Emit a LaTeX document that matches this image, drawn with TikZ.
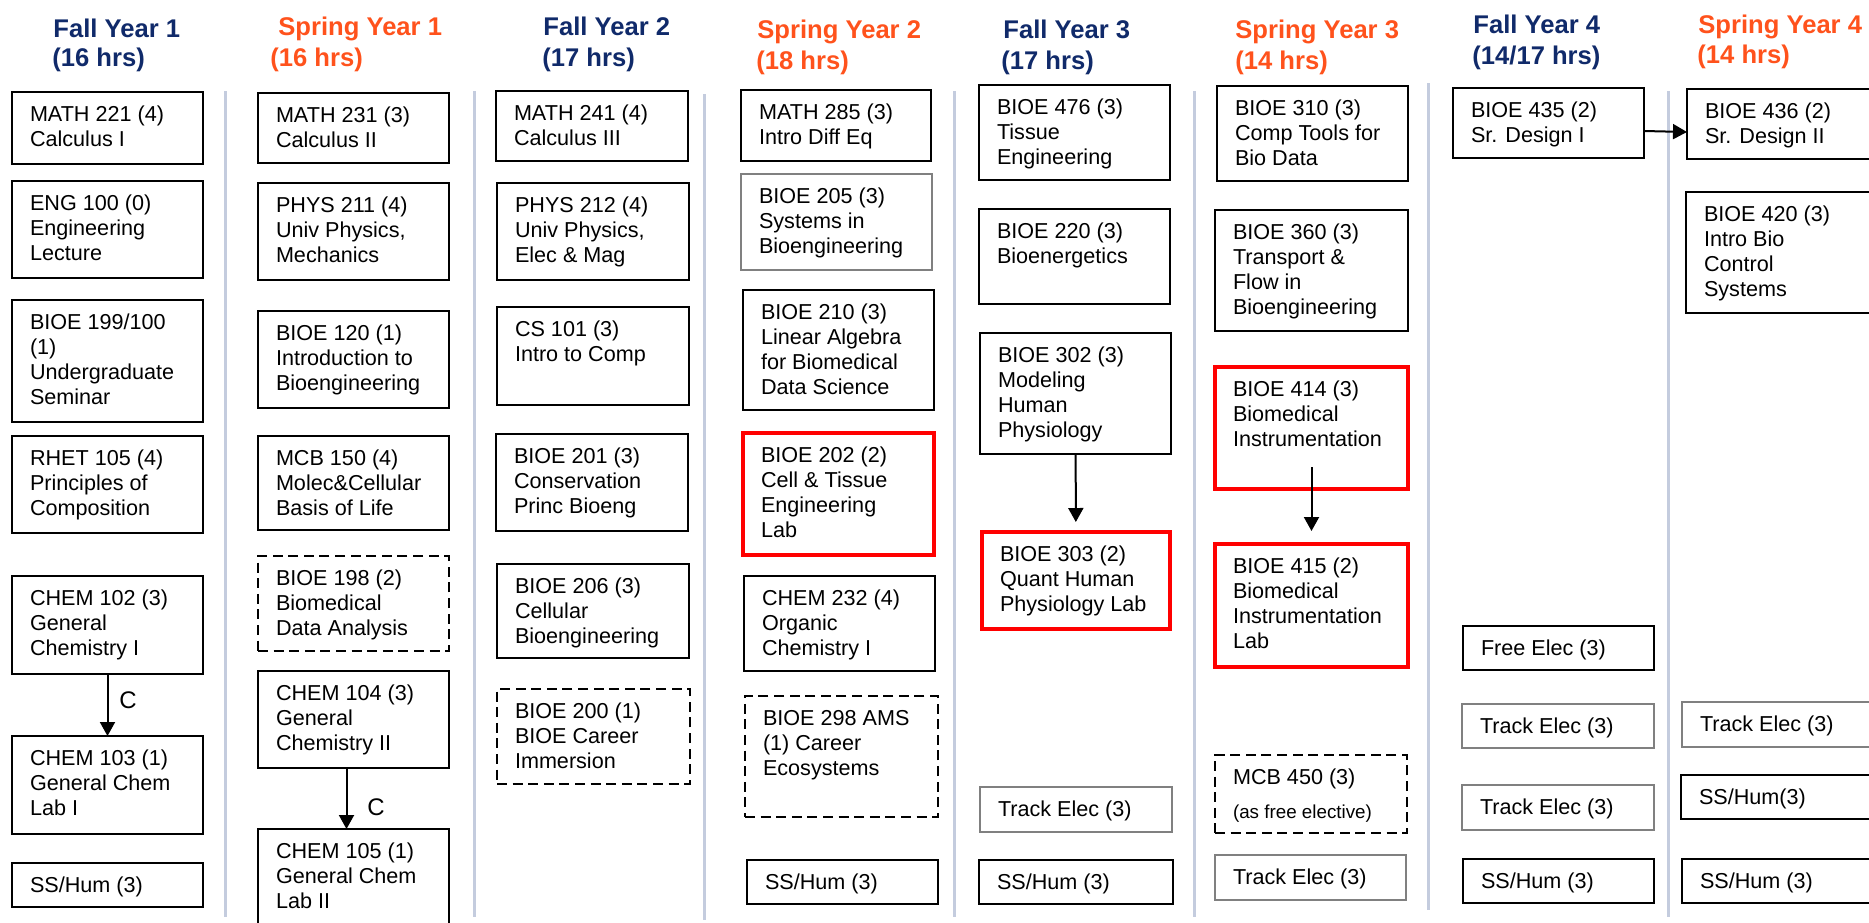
\documentclass[tikz,border=0pt]{standalone}
\usepackage{fontspec}
\setmainfont{Liberation Sans}
\usetikzlibrary{arrows.meta}
\definecolor{navy}{RGB}{16,42,106}
\definecolor{illorange}{RGB}{255,82,28}
\definecolor{sepcol}{RGB}{196,204,222}
\definecolor{thingray}{RGB}{128,128,128}
\definecolor{boxred}{RGB}{255,0,0}

% #1 name, #2 style, #3 x1, #4 y1, #5 x2, #6 y2 (pixels), #7 text
\newcommand{\crs}[7]{%
  \node[#2] (#1) at (#3,#4)
   {\parbox[c][\dimexpr(#6pt-#4pt)/2\relax][t]{\dimexpr(#5pt-#3pt)/2\relax}{%
     \raggedright\setlength{\leftskip}{9pt}\vspace*{6.3pt}\strut #7\par}};}

\tikzset{
  cbase/.style={inner sep=0pt, outer sep=0pt, anchor=north west,
    font=\fontsize{10.8pt}{12.4pt}\selectfont},
  thick box/.style={cbase, draw=black, line width=1.3pt},
  thin box/.style={cbase, draw=thingray, line width=0.6pt},
  red box/.style={cbase, draw=boxred, line width=1.65pt},
  dash box/.style={cbase, draw=black, line width=1.2pt, dash pattern=on 5pt off 2.8pt},
  hdr/.style={anchor=base west, inner sep=0pt, font=\fontsize{12.8pt}{15pt}\selectfont\bfseries},
  hfall/.style={hdr, text=navy},
  hspring/.style={hdr, text=illorange},
  sep/.style={draw=sepcol, line width=1.5pt},
  arr/.style={-{Triangle[width=7.5pt,length=7pt]}, line width=1pt},
  lbl/.style={inner sep=0pt, font=\fontsize{12pt}{14pt}\selectfont}
}

\begin{document}
\begin{tikzpicture}[x=0.5pt, y=-0.5pt]
\useasboundingbox (0,0) rectangle (1869,922);
\clip (0,0) rectangle (1869,922);

% separators
\draw[sep] (225,91) -- (225,917);
\draw[sep] (474,91) -- (474,917);
\draw[sep] (704,94) -- (704,920);
\draw[sep] (954,91) -- (954,917);
\draw[sep] (1194,91) -- (1194,917);
\draw[sep] (1428,83) -- (1428,910);
\draw[sep] (1668,91) -- (1668,917);

% headers
\node[hfall] (fy1a) at (53,37) {Fall Year 1};
\node[hfall] (fy1b) at (52,66) {(16 hrs)};
\node[hspring] (sy1a) at (278,35) {Spring Year 1};
\node[hspring] (sy1b) at (270,66) {(16 hrs)};
\node[hfall] (fy2a) at (543,35) {Fall Year 2};
\node[hfall] (fy2b) at (542,66) {(17 hrs)};
\node[hspring] (sy2a) at (757,38) {Spring Year 2};
\node[hspring] (sy2b) at (756,69) {(18 hrs)};
\node[hfall] (fy3a) at (1003,38) {Fall Year 3};
\node[hfall] (fy3b) at (1001,69) {(17 hrs)};
\node[hspring] (sy3a) at (1235,38) {Spring Year 3};
\node[hspring] (sy3b) at (1235,69) {(14 hrs)};
\node[hfall] (fy4a) at (1473,33) {Fall Year 4};
\node[hfall] (fy4b) at (1472,64) {(14/17 hrs)};
\node[hspring] (sy4a) at (1698,33) {Spring Year 4};
\node[hspring] (sy4b) at (1697,63) {(14 hrs)};

% column 1: Fall Year 1
\crs{m221}{thick box}{12}{92}{203}{164}{MATH 221 (4)\\Calculus I}
\crs{e100}{thick box}{12}{181}{203}{278}{ENG 100 (0)\\Engineering\\Lecture}
\crs{b199}{thick box}{12}{300}{203}{422}{BIOE 199/100\\(1)\\Undergraduate\\Seminar}
\crs{r105}{thick box}{12}{436}{203}{533}{RHET 105 (4)\\Principles of\\Composition}
\crs{c102}{thick box}{12}{576}{203}{674}{CHEM 102 (3)\\General\\Chemistry I}
\crs{c103}{thick box}{12}{736}{203}{834}{CHEM 103 (1)\\General Chem\\Lab I}
\crs{sh1}{thick box}{12}{863}{203}{907}{SS/Hum (3)}

% column 2: Spring Year 1
\crs{m231}{thick box}{258}{93}{449}{163}{MATH 231 (3)\\Calculus II}
\crs{p211}{thick box}{258}{183}{449}{280}{PHYS 211 (4)\\Univ Physics,\\Mechanics}
\crs{b120}{thick box}{258}{311}{449}{408}{BIOE 120 (1)\\Introduction to\\Bioengineering}
\crs{m150}{thick box}{258}{436}{449}{530}{MCB 150 (4)\\Molec\&Cellular\\Basis of Life}
\crs{b198}{dash box}{258}{556}{449}{651}{BIOE 198 (2)\\Biomedical\\Data Analysis}
\crs{c104}{thick box}{258}{671}{449}{768}{CHEM 104 (3)\\General\\Chemistry II}
\crs{c105}{thick box}{258}{829}{449}{940}{CHEM 105 (1)\\General Chem\\Lab II}

% column 3: Fall Year 2
\crs{m241}{thick box}{496}{91}{688}{161}{MATH 241 (4)\\Calculus III}
\crs{p212}{thick box}{497}{183}{689}{280}{PHYS 212 (4)\\Univ Physics,\\Elec \& Mag}
\crs{cs101}{thick box}{497}{307}{689}{405}{CS 101 (3)\\Intro to Comp}
\crs{b201}{thick box}{496}{434}{688}{531}{BIOE 201 (3)\\Conservation\\Princ Bioeng}
\crs{b206}{thick box}{497}{564}{689}{658}{BIOE 206 (3)\\Cellular\\Bioengineering}
\crs{b200}{dash box}{497}{689}{690}{784}{BIOE 200 (1)\\BIOE Career\\Immersion}

% column 4: Spring Year 2
\crs{m285}{thick box}{741}{90}{931}{161}{MATH 285 (3)\\Intro Diff Eq}
\crs{b205}{thin box}{741}{174}{932}{270}{BIOE 205 (3)\\Systems in\\Bioengineering}
\crs{b210}{thick box}{743}{290}{934}{410}{BIOE 210 (3)\\Linear Algebra\\for Biomedical\\Data Science}
\crs{b202}{red box}{743}{433}{934}{555}{BIOE 202 (2)\\Cell \& Tissue\\Engineering\\Lab}
\crs{c232}{thick box}{744}{576}{935}{671}{CHEM 232 (4)\\Organic\\Chemistry I}
\crs{b298}{dash box}{745}{696}{938}{817}{BIOE 298 AMS\\(1) Career\\Ecosystems}
\crs{sh4}{thick box}{747}{860}{938}{904}{SS/Hum (3)}

% column 5: Fall Year 3
\crs{b476}{thick box}{979}{85}{1170}{180}{BIOE 476 (3)\\Tissue\\Engineering}
\crs{b220}{thick box}{979}{209}{1170}{304}{BIOE 220 (3)\\Bioenergetics}
\crs{b302}{thick box}{980}{333}{1171}{454}{BIOE 302 (3)\\Modeling\\Human\\Physiology}
\crs{b303}{red box}{982}{532}{1170}{629}{BIOE 303 (2)\\Quant Human\\Physiology Lab}
\crs{te5}{thin box}{980}{787}{1172}{832}{Track Elec (3)}
\crs{sh5}{thick box}{979}{860}{1173}{904}{SS/Hum (3)}

% column 6: Spring Year 3
\crs{b310}{thick box}{1217}{86}{1408}{181}{BIOE 310 (3)\\Comp Tools for\\Bio Data}
\crs{b360}{thick box}{1215}{210}{1408}{331}{BIOE 360 (3)\\Transport \&\\Flow in\\Bioengineering}
\crs{b414}{red box}{1215}{367}{1408}{489}{BIOE 414 (3)\\Biomedical\\Instrumentation}
\crs{b415}{red box}{1215}{544}{1408}{667}{BIOE 415 (2)\\Biomedical\\Instrumentation\\Lab}
\crs{m450}{dash box}{1215}{755}{1407}{833}{MCB 450 (3)\\[4.6pt]{\fontsize{9.4pt}{12pt}\selectfont (as free elective)}}
\crs{te6}{thin box}{1215}{855}{1406}{900}{Track Elec (3)}

% column 7: Fall Year 4
\crs{b435}{thick box}{1453}{88}{1644}{158}{BIOE 435 (2)\\Sr. Design I}
\crs{fe7}{thick box}{1463}{626}{1654}{670}{Free Elec (3)}
\crs{te7a}{thin box}{1462}{704}{1654}{748}{Track Elec (3)}
\crs{te7b}{thin box}{1462}{785}{1654}{830}{Track Elec (3)}
\crs{sh7}{thick box}{1463}{859}{1654}{903}{SS/Hum (3)}

% column 8: Spring Year 4
\crs{b436}{thick box}{1687}{89}{1880}{159}{BIOE 436 (2)\\Sr. Design II}
\crs{b420}{thick box}{1686}{192}{1880}{313}{BIOE 420 (3)\\Intro Bio\\Control\\Systems}
\crs{te8}{thin box}{1682}{702}{1880}{747}{Track Elec (3)}
\crs{sh8a}{thick box}{1681}{775}{1880}{819}{SS/Hum(3)}
\crs{sh8b}{thick box}{1682}{859}{1880}{903}{SS/Hum (3)}

% prerequisite arrows
\draw[arr] (c102) -- (c103);
\node[lbl] (cl1) at (128,700) {C};
\draw[arr] ([xshift=-3.5pt]c104.south) -- ([xshift=-3.5pt]c105.north);
\node[lbl] (cl2) at (376,807) {C};
\draw[arr, shorten >=5pt] (b302) -- (b303);
\draw[arr, shorten <=-11pt, shorten >=6.5pt] (b414) -- (b415);
\draw[arr] ([yshift=-4pt]b435.east) -- ([yshift=-4pt]b436.west);
\end{tikzpicture}
\end{document}
